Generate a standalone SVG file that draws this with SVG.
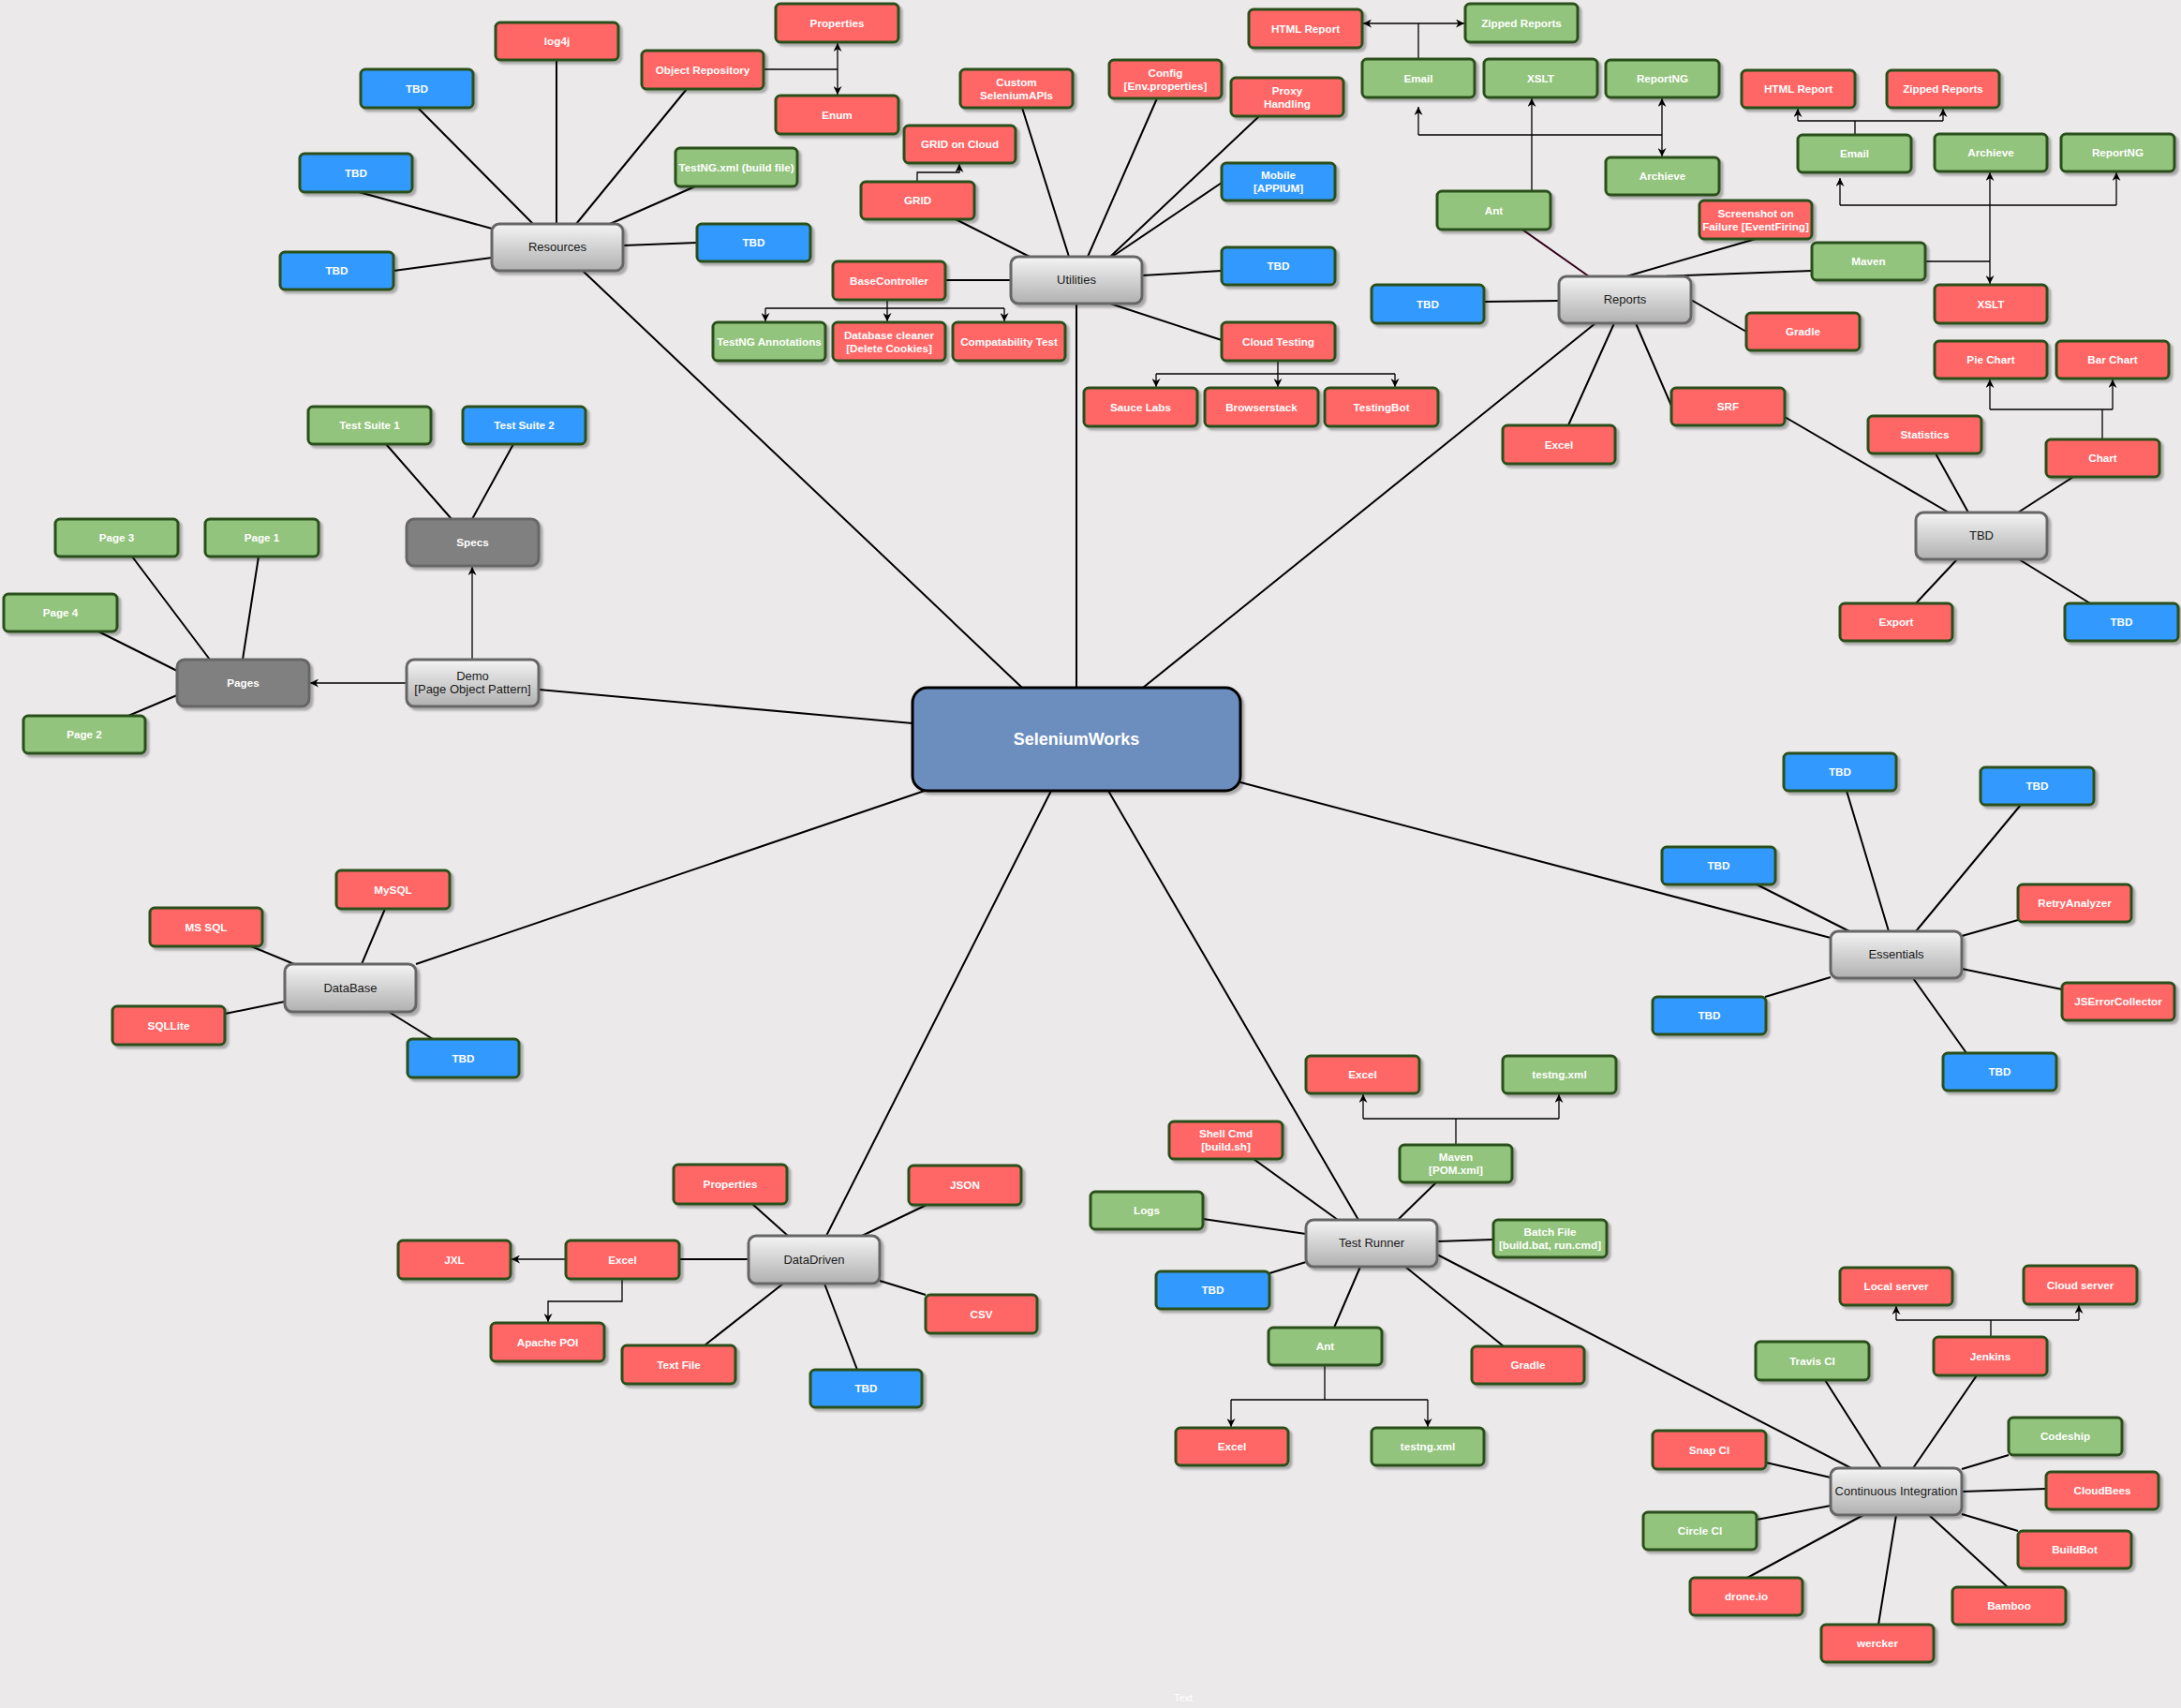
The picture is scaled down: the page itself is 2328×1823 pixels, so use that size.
<svg xmlns="http://www.w3.org/2000/svg" width="2328" height="1823" viewBox="0 0 2328 1823">
<defs>
<style>
.n{stroke:#29501b;stroke-width:3;filter:url(#ds)}
.red{fill:#ff6666}.grn{fill:#93c47d}.blu{fill:#3399ff}
.gy{fill:url(#gg);stroke:#666;stroke-width:3;filter:url(#ds)}
.dk{fill:#808080;stroke:#666;stroke-width:3;filter:url(#ds)}
.t{font-family:"Liberation Sans",Arial,sans-serif;font-weight:bold;font-size:11.7px;fill:#fff;text-anchor:middle}
.tg{font-family:"Liberation Sans",Arial,sans-serif;font-size:13px;fill:#1a1a1a;text-anchor:middle}
.sp{stroke:#000;stroke-width:2;fill:none}
.ar{stroke:#000;stroke-width:1.3;fill:none}
.ae{marker-end:url(#ah)}
</style>
<linearGradient id="gg" x1="0" y1="0" x2="0" y2="1"><stop offset="0" stop-color="#f4f4f4"/><stop offset="1" stop-color="#b0b0b0"/></linearGradient>
<filter id="ds" x="-10%" y="-10%" width="130%" height="140%"><feDropShadow dx="3" dy="3" stdDeviation="0.8" flood-color="#000" flood-opacity="0.28"/></filter>
<marker id="ah" viewBox="0 0 10 10" refX="10" refY="5" markerWidth="9" markerHeight="9" markerUnits="userSpaceOnUse" orient="auto"><path d="M0,0 L10,5 L0,10 L3,5 z" fill="#000"/></marker>
</defs>
<rect width="2328" height="1823" fill="#ebe9e9"/>
<g id="connectors">
<path class="sp" d="M622,289L1091,734M1149,324L1149,734M1703,345L1220,734M575,736L974,772M444,1029L987,844M882,1319L1122,844M1450,1302L1183,844M1954,1001L1324,835"/>
<path class="sp" d="M446,115L569,239M594,64L594,239M733,95L615,239M742,199L651,239M383,205L525,244M744,259L665,262M420,289L525,275"/>
<path class="sp" d="M1020,234L1099,274M1091,115L1141,274M1235,105L1161,274M1344,124L1185,274M1304,195L1187,274M1304,289L1219,294M1304,363L1185,324M1009,299L1079,299"/>
<path class="sp" d="M1584,322L1664,321M1874,255L1736,295M1934,289L1770,295M1805,320L1864,354M1674,454L1723,345M1784,433L1746,345"/>
<path d="M1625,245L1696,295" stroke="#33001a" stroke-width="2" fill="none"/>
<path class="sp" d="M1905,445L2080,547M2066,484L2101,547M2213,509L2154,547M2089,597L2045,644M2155,597L2231,644"/>
<path class="sp" d="M412,474L482,554M548,474L504,554M141,594L224,704M276,594L259,704M105,674L189,716M137,764L189,742"/>
<path class="sp" d="M411,970L386,1029M268,1010L314,1029M240,1082L304,1069M462,1109L415,1080"/>
<path class="sp" d="M803,1285L841,1319M989,1286L920,1319M725,1344L799,1344M988,1382L939,1367M752,1436L836,1370M915,1462L880,1370"/>
<path class="sp" d="M1338,1237L1428,1302M1533,1262L1492,1302M1284,1301L1394,1317M1594,1323L1534,1325M1355,1359L1394,1347M1424,1417L1452,1352M1605,1437L1500,1352M1534,1339L1976,1567"/>
<path class="sp" d="M1948,1473L2008,1567M2110,1468L2042,1567M1885,1561L1954,1577M2144,1553L2094,1568M2184,1589L2094,1592M1875,1622L1954,1607M2154,1634L2094,1616M1865,1684L1989,1617M2143,1694L2059,1617M2005,1734L2024,1617"/>
<path class="sp" d="M1875,944L1974,994M1971,844L2016,994M2157,859L2045,994M2154,982L2094,999M2201,1056L2094,1034M1884,1064L1954,1043M2099,1124L2042,1044"/>
<path class="ar" d="M815,74H894"/>
<path class="ar ae" d="M894,74V46"/>
<path class="ar ae" d="M894,74V101"/>
<path class="ar ae" d="M979,194V184H1024V175"/>
<path class="ar" d="M947,320V329M817,329H1072"/>
<path class="ar ae" d="M817,329V343"/><path class="ar ae" d="M947,329V343"/><path class="ar ae" d="M1072,329V343"/>
<path class="ar" d="M1364,385V399M1234,399H1489"/>
<path class="ar ae" d="M1234,399V413"/><path class="ar ae" d="M1364,399V413"/><path class="ar ae" d="M1489,399V413"/>
<path class="ar" d="M1514,63V25"/>
<path class="ar ae" d="M1514,25H1455"/><path class="ar ae" d="M1514,25H1563"/>
<path class="ar ae" d="M1635,204V105"/>
<path class="ar" d="M1514,144H1774"/>
<path class="ar ae" d="M1514,144V114"/><path class="ar ae" d="M1774,144V105"/><path class="ar ae" d="M1774,144V167"/>
<path class="ar" d="M2055,279H2124"/>
<path class="ar ae" d="M2124,279V303"/>
<path class="ar ae" d="M2124,279V184"/>
<path class="ar" d="M1964,219H2259"/>
<path class="ar ae" d="M1964,219V190"/><path class="ar ae" d="M2259,219V184"/>
<path class="ar" d="M1980,144V129M1919,129H2074"/>
<path class="ar ae" d="M1919,129V116"/><path class="ar ae" d="M2074,129V116"/>
<path class="ar" d="M2244,469V437M2124,437H2255"/>
<path class="ar ae" d="M2124,437V405"/><path class="ar ae" d="M2255,437V405"/>
<path class="ar ae" d="M434,729H331"/>
<path class="ar ae" d="M504,704V605"/>
<path class="ar ae" d="M604,1344H546"/>
<path class="ar ae" d="M664,1365V1389H585V1411"/>
<path class="ar" d="M1554,1222V1194M1455,1194H1664"/>
<path class="ar ae" d="M1455,1194V1168"/><path class="ar ae" d="M1664,1194V1168"/>
<path class="ar" d="M1414,1457V1494M1314,1494H1524"/>
<path class="ar ae" d="M1314,1494V1523"/><path class="ar ae" d="M1524,1494V1523"/>
<path class="ar" d="M2125,1427V1409M2024,1409H2219"/>
<path class="ar ae" d="M2024,1409V1394"/><path class="ar ae" d="M2219,1409V1393"/>
</g>
<g id="n_selenium"><rect x="974" y="734" width="350" height="110" rx="16" fill="#6c8ebf" stroke="#000" stroke-width="3" filter="url(#ds)"/><text x="1149" y="795" font-family="Liberation Sans, Arial, sans-serif" font-weight="bold" font-size="18" fill="#fff" text-anchor="middle">SeleniumWorks</text></g>
<g id="n_resources"><rect class="gy" x="525" y="239" width="140" height="50" rx="8"/><text class="tg" x="595" y="268">Resources</text></g>
<g id="n_res_tbd1"><rect class="n blu" x="385" y="74" width="120" height="41" rx="5"/><text class="t" x="445" y="98.5">TBD</text></g>
<g id="n_log4j"><rect class="n red" x="529" y="24" width="131" height="40" rx="5"/><text class="t" x="594.5" y="48">log4j</text></g>
<g id="n_objrep"><rect class="n red" x="685" y="54" width="130" height="41" rx="5"/><text class="t" x="750" y="78.5">Object Repository</text></g>
<g id="n_res_props"><rect class="n red" x="828" y="4" width="131" height="41" rx="5"/><text class="t" x="893.5" y="28.5">Properties</text></g>
<g id="n_enum"><rect class="n red" x="828" y="102" width="131" height="41" rx="5"/><text class="t" x="893.5" y="126.5">Enum</text></g>
<g id="n_testngxml"><rect class="n grn" x="721" y="158" width="130" height="41" rx="5"/><text class="t" x="786" y="182.5">TestNG.xml (build file)</text></g>
<g id="n_res_tbd2"><rect class="n blu" x="320" y="164" width="120" height="41" rx="5"/><text class="t" x="380" y="188.5">TBD</text></g>
<g id="n_res_tbd3"><rect class="n blu" x="744" y="239" width="121" height="40" rx="5"/><text class="t" x="804.5" y="263">TBD</text></g>
<g id="n_res_tbd4"><rect class="n blu" x="299" y="269" width="121" height="40" rx="5"/><text class="t" x="359.5" y="293">TBD</text></g>
<g id="n_utilities"><rect class="gy" x="1079" y="274" width="140" height="50" rx="8"/><text class="tg" x="1149" y="303">Utilities</text></g>
<g id="n_custom"><rect class="n red" x="1025" y="74" width="120" height="41" rx="5"/><text class="t" x="1085" y="91.5">Custom</text><text class="t" x="1085" y="105.5">SeleniumAPIs</text></g>
<g id="n_config"><rect class="n red" x="1184" y="64" width="120" height="41" rx="5"/><text class="t" x="1244" y="81.5">Config</text><text class="t" x="1244" y="95.5">[Env.properties]</text></g>
<g id="n_proxy"><rect class="n red" x="1314" y="83" width="120" height="41" rx="5"/><text class="t" x="1374" y="100.5">Proxy</text><text class="t" x="1374" y="114.5">Handling</text></g>
<g id="n_gridcloud"><rect class="n red" x="965" y="134" width="119" height="40" rx="5"/><text class="t" x="1024.5" y="158">GRID on Cloud</text></g>
<g id="n_grid"><rect class="n red" x="919" y="194" width="121" height="40" rx="5"/><text class="t" x="979.5" y="218">GRID</text></g>
<g id="n_mobile"><rect class="n blu" x="1304" y="174" width="121" height="40" rx="5"/><text class="t" x="1364.5" y="191">Mobile</text><text class="t" x="1364.5" y="205">[APPIUM]</text></g>
<g id="n_util_tbd"><rect class="n blu" x="1304" y="264" width="121" height="40" rx="5"/><text class="t" x="1364.5" y="288">TBD</text></g>
<g id="n_basectl"><rect class="n red" x="889" y="279" width="120" height="41" rx="5"/><text class="t" x="949" y="303.5">BaseController</text></g>
<g id="n_testngann"><rect class="n grn" x="761" y="344" width="120" height="41" rx="5"/><text class="t" x="821" y="368.5">TestNG Annotations</text></g>
<g id="n_dbclean"><rect class="n red" x="889" y="344" width="120" height="41" rx="5"/><text class="t" x="949" y="361.5">Database cleaner</text><text class="t" x="949" y="375.5">[Delete Cookies]</text></g>
<g id="n_compat"><rect class="n red" x="1017" y="344" width="120" height="41" rx="5"/><text class="t" x="1077" y="368.5">Compatability Test</text></g>
<g id="n_cloudtest"><rect class="n red" x="1304" y="344" width="121" height="41" rx="5"/><text class="t" x="1364.5" y="368.5">Cloud Testing</text></g>
<g id="n_sauce"><rect class="n red" x="1157" y="414" width="121" height="41" rx="5"/><text class="t" x="1217.5" y="438.5">Sauce Labs</text></g>
<g id="n_bstack"><rect class="n red" x="1286" y="414" width="121" height="41" rx="5"/><text class="t" x="1346.5" y="438.5">Browserstack</text></g>
<g id="n_tbot"><rect class="n red" x="1414" y="414" width="121" height="41" rx="5"/><text class="t" x="1474.5" y="438.5">TestingBot</text></g>
<g id="n_reports"><rect class="gy" x="1664" y="295" width="141" height="50" rx="8"/><text class="tg" x="1734.5" y="324">Reports</text></g>
<g id="n_html1"><rect class="n red" x="1333" y="10" width="121" height="41" rx="5"/><text class="t" x="1393.5" y="34.5">HTML Report</text></g>
<g id="n_zip1"><rect class="n grn" x="1564" y="4" width="120" height="41" rx="5"/><text class="t" x="1624" y="28.5">Zipped Reports</text></g>
<g id="n_email1"><rect class="n grn" x="1454" y="63" width="120" height="41" rx="5"/><text class="t" x="1514" y="87.5">Email</text></g>
<g id="n_xslt1"><rect class="n grn" x="1584" y="63" width="121" height="41" rx="5"/><text class="t" x="1644.5" y="87.5">XSLT</text></g>
<g id="n_reportng1"><rect class="n grn" x="1714" y="64" width="121" height="40" rx="5"/><text class="t" x="1774.5" y="88">ReportNG</text></g>
<g id="n_archieve1"><rect class="n grn" x="1714" y="168" width="121" height="40" rx="5"/><text class="t" x="1774.5" y="192">Archieve</text></g>
<g id="n_ant1"><rect class="n grn" x="1534" y="204" width="121" height="41" rx="5"/><text class="t" x="1594.5" y="228.5">Ant</text></g>
<g id="n_screenshot"><rect class="n red" x="1814" y="214" width="120" height="41" rx="5"/><text class="t" x="1874" y="231.5">Screenshot on</text><text class="t" x="1874" y="245.5" font-size="11.2">Failure [EventFiring]</text></g>
<g id="n_maven1"><rect class="n grn" x="1934" y="259" width="121" height="40" rx="5"/><text class="t" x="1994.5" y="283">Maven</text></g>
<g id="n_rep_tbd"><rect class="n blu" x="1464" y="304" width="120" height="41" rx="5"/><text class="t" x="1524" y="328.5">TBD</text></g>
<g id="n_gradle1"><rect class="n red" x="1864" y="334" width="121" height="40" rx="5"/><text class="t" x="1924.5" y="358">Gradle</text></g>
<g id="n_xslt2"><rect class="n red" x="2065" y="304" width="120" height="41" rx="5"/><text class="t" x="2125" y="328.5">XSLT</text></g>
<g id="n_html2"><rect class="n red" x="1859" y="75" width="121" height="40" rx="5"/><text class="t" x="1919.5" y="99">HTML Report</text></g>
<g id="n_zip2"><rect class="n red" x="2014" y="75" width="120" height="40" rx="5"/><text class="t" x="2074" y="99">Zipped Reports</text></g>
<g id="n_email2"><rect class="n grn" x="1919" y="144" width="121" height="40" rx="5"/><text class="t" x="1979.5" y="168">Email</text></g>
<g id="n_archieve2"><rect class="n grn" x="2065" y="143" width="120" height="40" rx="5"/><text class="t" x="2125" y="167">Archieve</text></g>
<g id="n_reportng2"><rect class="n grn" x="2200" y="143" width="121" height="40" rx="5"/><text class="t" x="2260.5" y="167">ReportNG</text></g>
<g id="n_excel1"><rect class="n red" x="1604" y="454" width="120" height="41" rx="5"/><text class="t" x="1664" y="478.5">Excel</text></g>
<g id="n_srf"><rect class="n red" x="1784" y="414" width="121" height="40" rx="5"/><text class="t" x="1844.5" y="438">SRF</text></g>
<g id="n_tbdgrey"><rect class="gy" x="2045" y="547" width="140" height="50" rx="8"/><text class="tg" x="2115" y="576">TBD</text></g>
<g id="n_statistics"><rect class="n red" x="1994" y="444" width="121" height="40" rx="5"/><text class="t" x="2054.5" y="468">Statistics</text></g>
<g id="n_chart"><rect class="n red" x="2184" y="469" width="121" height="40" rx="5"/><text class="t" x="2244.5" y="493">Chart</text></g>
<g id="n_pie"><rect class="n red" x="2065" y="364" width="120" height="40" rx="5"/><text class="t" x="2125" y="388">Pie Chart</text></g>
<g id="n_bar"><rect class="n red" x="2195" y="364" width="120" height="40" rx="5"/><text class="t" x="2255" y="388">Bar Chart</text></g>
<g id="n_export"><rect class="n red" x="1964" y="644" width="120" height="40" rx="5"/><text class="t" x="2024" y="668">Export</text></g>
<g id="n_tbdblue"><rect class="n blu" x="2204" y="644" width="121" height="40" rx="5"/><text class="t" x="2264.5" y="668">TBD</text></g>
<g id="n_specs"><rect class="dk" x="434" y="554" width="141" height="50" rx="8"/><text class="t" x="504.5" y="583">Specs</text></g>
<g id="n_ts1"><rect class="n grn" x="329" y="434" width="131" height="40" rx="5"/><text class="t" x="394.5" y="458">Test Suite 1</text></g>
<g id="n_ts2"><rect class="n blu" x="494" y="434" width="131" height="40" rx="5"/><text class="t" x="559.5" y="458">Test Suite 2</text></g>
<g id="n_page3"><rect class="n grn" x="59" y="554" width="131" height="40" rx="5"/><text class="t" x="124.5" y="578">Page 3</text></g>
<g id="n_page1"><rect class="n grn" x="219" y="554" width="121" height="40" rx="5"/><text class="t" x="279.5" y="578">Page 1</text></g>
<g id="n_page4"><rect class="n grn" x="4" y="634" width="121" height="40" rx="5"/><text class="t" x="64.5" y="658">Page 4</text></g>
<g id="n_pages"><rect class="dk" x="189" y="704" width="141" height="50" rx="8"/><text class="t" x="259.5" y="733">Pages</text></g>
<g id="n_demo"><rect class="gy" x="434" y="704" width="141" height="50" rx="8"/><text class="tg" x="504.5" y="726">Demo</text><text class="tg" x="504.5" y="740">[Page Object Pattern]</text></g>
<g id="n_page2"><rect class="n grn" x="25" y="764" width="130" height="40" rx="5"/><text class="t" x="90" y="788">Page 2</text></g>
<g id="n_database"><rect class="gy" x="304" y="1029" width="140" height="51" rx="8"/><text class="tg" x="374" y="1058.5">DataBase</text></g>
<g id="n_mysql"><rect class="n red" x="359" y="929" width="121" height="41" rx="5"/><text class="t" x="419.5" y="953.5">MySQL</text></g>
<g id="n_mssql"><rect class="n red" x="160" y="969" width="120" height="41" rx="5"/><text class="t" x="220" y="993.5">MS SQL</text></g>
<g id="n_sqllite"><rect class="n red" x="120" y="1074" width="120" height="41" rx="5"/><text class="t" x="180" y="1098.5">SQLLite</text></g>
<g id="n_db_tbd"><rect class="n blu" x="435" y="1109" width="119" height="41" rx="5"/><text class="t" x="494.5" y="1133.5">TBD</text></g>
<g id="n_datadriven"><rect class="gy" x="799" y="1319" width="140" height="51" rx="8"/><text class="tg" x="869" y="1348.5">DataDriven</text></g>
<g id="n_dd_props"><rect class="n red" x="719" y="1243" width="121" height="42" rx="5"/><text class="t" x="779.5" y="1268">Properties</text></g>
<g id="n_json"><rect class="n red" x="970" y="1244" width="120" height="42" rx="5"/><text class="t" x="1030" y="1269">JSON</text></g>
<g id="n_jxl"><rect class="n red" x="425" y="1324" width="120" height="41" rx="5"/><text class="t" x="485" y="1348.5">JXL</text></g>
<g id="n_dd_excel"><rect class="n red" x="604" y="1324" width="121" height="41" rx="5"/><text class="t" x="664.5" y="1348.5">Excel</text></g>
<g id="n_csv"><rect class="n red" x="988" y="1382" width="119" height="41" rx="5"/><text class="t" x="1047.5" y="1406.5">CSV</text></g>
<g id="n_apache"><rect class="n red" x="524" y="1412" width="121" height="41" rx="5"/><text class="t" x="584.5" y="1436.5">Apache POI</text></g>
<g id="n_textfile"><rect class="n red" x="664" y="1436" width="121" height="41" rx="5"/><text class="t" x="724.5" y="1460.5">Text File</text></g>
<g id="n_dd_tbd"><rect class="n blu" x="865" y="1462" width="119" height="40" rx="5"/><text class="t" x="924.5" y="1486">TBD</text></g>
<g id="n_testrunner"><rect class="gy" x="1394" y="1302" width="140" height="50" rx="8"/><text class="tg" x="1464" y="1331">Test Runner</text></g>
<g id="n_tr_excel"><rect class="n red" x="1394" y="1127" width="121" height="40" rx="5"/><text class="t" x="1454.5" y="1151">Excel</text></g>
<g id="n_tr_testng"><rect class="n grn" x="1604" y="1127" width="121" height="40" rx="5"/><text class="t" x="1664.5" y="1151">testng.xml</text></g>
<g id="n_shell"><rect class="n red" x="1248" y="1197" width="121" height="40" rx="5"/><text class="t" x="1308.5" y="1214">Shell Cmd</text><text class="t" x="1308.5" y="1228">[build.sh]</text></g>
<g id="n_tr_maven"><rect class="n grn" x="1494" y="1222" width="120" height="40" rx="5"/><text class="t" x="1554" y="1239">Maven</text><text class="t" x="1554" y="1253">[POM.xml]</text></g>
<g id="n_logs"><rect class="n grn" x="1164" y="1272" width="120" height="40" rx="5"/><text class="t" x="1224" y="1296">Logs</text></g>
<g id="n_batch"><rect class="n grn" x="1594" y="1302" width="121" height="40" rx="5"/><text class="t" x="1654.5" y="1319">Batch File</text><text class="t" x="1654.5" y="1333" font-size="11">[build.bat, run.cmd]</text></g>
<g id="n_tr_tbd"><rect class="n blu" x="1234" y="1357" width="121" height="40" rx="5"/><text class="t" x="1294.5" y="1381">TBD</text></g>
<g id="n_tr_ant"><rect class="n grn" x="1354" y="1417" width="121" height="40" rx="5"/><text class="t" x="1414.5" y="1441">Ant</text></g>
<g id="n_tr_gradle"><rect class="n red" x="1571" y="1437" width="120" height="40" rx="5"/><text class="t" x="1631" y="1461">Gradle</text></g>
<g id="n_ant_excel"><rect class="n red" x="1255" y="1524" width="120" height="40" rx="5"/><text class="t" x="1315" y="1548">Excel</text></g>
<g id="n_ant_testng"><rect class="n grn" x="1464" y="1524" width="120" height="40" rx="5"/><text class="t" x="1524" y="1548">testng.xml</text></g>
<g id="n_ci"><rect class="gy" x="1954" y="1567" width="140" height="50" rx="8"/><text class="tg" x="2024" y="1596" font-size="12.5">Continuous Integration</text></g>
<g id="n_local"><rect class="n red" x="1964" y="1353" width="120" height="40" rx="5"/><text class="t" x="2024" y="1377">Local server</text></g>
<g id="n_cloudsrv"><rect class="n red" x="2160" y="1351" width="121" height="41" rx="5"/><text class="t" x="2220.5" y="1375.5">Cloud server</text></g>
<g id="n_travis"><rect class="n grn" x="1874" y="1432" width="121" height="41" rx="5"/><text class="t" x="1934.5" y="1456.5">Travis CI</text></g>
<g id="n_jenkins"><rect class="n red" x="2064" y="1427" width="121" height="41" rx="5"/><text class="t" x="2124.5" y="1451.5">Jenkins</text></g>
<g id="n_snap"><rect class="n red" x="1764" y="1527" width="121" height="41" rx="5"/><text class="t" x="1824.5" y="1551.5">Snap CI</text></g>
<g id="n_codeship"><rect class="n grn" x="2144" y="1513" width="121" height="40" rx="5"/><text class="t" x="2204.5" y="1537">Codeship</text></g>
<g id="n_cloudbees"><rect class="n red" x="2184" y="1571" width="120" height="40" rx="5"/><text class="t" x="2244" y="1595">CloudBees</text></g>
<g id="n_circle"><rect class="n grn" x="1754" y="1614" width="121" height="40" rx="5"/><text class="t" x="1814.5" y="1638">Circle CI</text></g>
<g id="n_buildbot"><rect class="n red" x="2154" y="1634" width="121" height="40" rx="5"/><text class="t" x="2214.5" y="1658">BuildBot</text></g>
<g id="n_drone"><rect class="n red" x="1804" y="1684" width="120" height="40" rx="5"/><text class="t" x="1864" y="1708">drone.io</text></g>
<g id="n_bamboo"><rect class="n red" x="2084" y="1694" width="121" height="40" rx="5"/><text class="t" x="2144.5" y="1718">Bamboo</text></g>
<g id="n_wercker"><rect class="n red" x="1944" y="1734" width="120" height="40" rx="5"/><text class="t" x="2004" y="1758">wercker</text></g>
<g id="n_essentials"><rect class="gy" x="1954" y="994" width="140" height="50" rx="8"/><text class="tg" x="2024" y="1023">Essentials</text></g>
<g id="n_es_tbd1"><rect class="n blu" x="1904" y="804" width="120" height="40" rx="5"/><text class="t" x="1964" y="828">TBD</text></g>
<g id="n_es_tbd2"><rect class="n blu" x="2114" y="819" width="121" height="40" rx="5"/><text class="t" x="2174.5" y="843">TBD</text></g>
<g id="n_es_tbd3"><rect class="n blu" x="1774" y="904" width="121" height="40" rx="5"/><text class="t" x="1834.5" y="928">TBD</text></g>
<g id="n_retry"><rect class="n red" x="2154" y="944" width="121" height="40" rx="5"/><text class="t" x="2214.5" y="968">RetryAnalyzer</text></g>
<g id="n_jserr"><rect class="n red" x="2201" y="1049" width="120" height="40" rx="5"/><text class="t" x="2261" y="1073">JSErrorCollector</text></g>
<g id="n_es_tbd4"><rect class="n blu" x="1764" y="1064" width="121" height="40" rx="5"/><text class="t" x="1824.5" y="1088">TBD</text></g>
<g id="n_es_tbd5"><rect class="n blu" x="2074" y="1124" width="121" height="40" rx="5"/><text class="t" x="2134.5" y="1148">TBD</text></g>
<text x="1263" y="1816" font-family="Liberation Sans, Arial, sans-serif" font-size="11" fill="#fff" text-anchor="middle">Text</text>
</svg>
